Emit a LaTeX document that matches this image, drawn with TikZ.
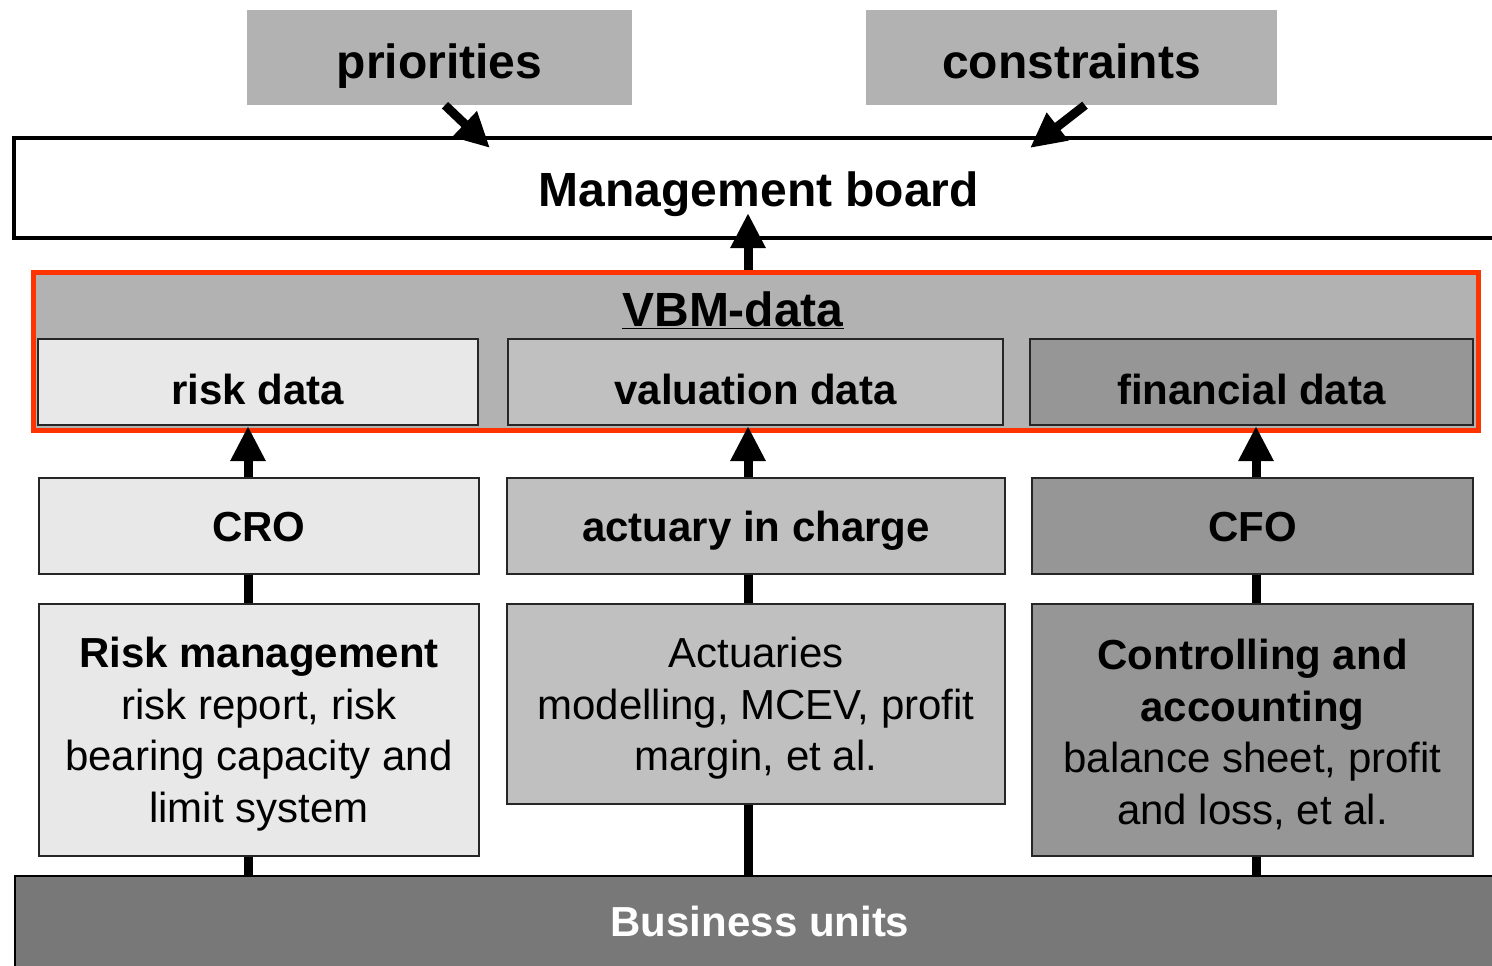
\documentclass[tikz,border=0pt]{standalone}
\usepackage{fontspec}
\setmainfont{Liberation Sans}
\usetikzlibrary{arrows.meta}
\definecolor{headgray}{HTML}{B2B2B2}
\definecolor{lightgray}{HTML}{E8E8E8}
\definecolor{midgray}{HTML}{C0C0C0}
\definecolor{darkgray}{HTML}{969696}
\definecolor{unitgray}{HTML}{787878}
\definecolor{vbmred}{HTML}{FF3300}
\newcommand{\topstrut}{\rule{0pt}{39pt}}
\tikzset{
  headbox/.style  = {fill=headgray, minimum height=95pt, inner sep=0pt,
                     text height=52pt, text depth=11pt,
                     font=\bfseries\fontsize{48}{56}\selectfont},
  databox/.style  = {draw=black!85, line width=2pt, inner sep=0pt,
                     text height=39pt, text depth=9pt,
                     font=\bfseries\fontsize{42}{50}\selectfont},
  datarow/.style  = {databox, minimum height=86pt, text height=53pt},
  textbox/.style  = {draw=black!85, line width=2pt, inner sep=0pt, align=center,
                     font=\fontsize{42}{51.5}\selectfont},
  flow/.style     = {-{Triangle[width=33pt, length=35pt]}, line width=9pt},
  link/.style     = {-, line width=9pt},
}

\begin{document}
\begin{tikzpicture}[x=1pt, y=-1pt]
    \path[use as bounding box] (0,0) rectangle (1492,966);
    \clip (0,0) rectangle (1492,966);

    % inputs and board
    \node[headbox, minimum width=385pt] (prio)   at (439.5,57.5)  {priorities};
    \node[headbox, minimum width=411pt] (constr) at (1071.5,57.5) {constraints};
    \node[draw=black, line width=4.5pt, fill=white, inner sep=0pt,
          minimum width=1490pt, minimum height=100pt,
          text height=47pt, text depth=11pt,
          font=\bfseries\fontsize{48}{56}\selectfont] (board) at (759,188) {Management board};

    % VBM frame with its three data blocks
    \node[draw=vbmred, fill=headgray, line width=5pt,
          minimum width=1445pt, minimum height=158pt] (vbm) at (756,351.5) {};
    \node[font=\bfseries\fontsize{48}{56}\selectfont, inner sep=0pt] (vbmlabel) at (733,310) {\underline{VBM-data}};
    \node[datarow, fill=lightgray, minimum width=440pt] (riskdata) at (258,382)    {risk data};
    \node[datarow, fill=midgray,   minimum width=495pt] (valdata)  at (755.5,382)  {valuation data};
    \node[datarow, fill=darkgray,  minimum width=443pt] (findata)  at (1251.5,382) {financial data};

    % responsible persons
    \node[databox, fill=lightgray, minimum width=440pt, minimum height=96pt] (cro)     at (259,526)    {CRO};
    \node[databox, fill=midgray,   minimum width=498pt, minimum height=96pt] (actuary) at (756,526)    {actuary in charge};
    \node[databox, fill=darkgray,  minimum width=441pt, minimum height=96pt] (cfo)     at (1252.5,526) {CFO};

    % departments
    \node[textbox, fill=lightgray, minimum width=440pt, minimum height=252pt] (riskmgmt) at (259,730)
      {\topstrut\textbf{Risk management}\\risk report, risk\\bearing capacity and\\limit system};
    \node[textbox, fill=midgray, minimum width=498pt, minimum height=200pt] (actuaries) at (756,704)
      {\topstrut Actuaries\\modelling, MCEV, profit\\margin, et al.};
    \node[textbox, fill=darkgray, minimum width=441pt, minimum height=252pt] (controlling) at (1252.5,730)
      {\topstrut\textbf{Controlling and}\\\textbf{accounting}\\balance sheet, profit\\and loss, et al.};

    \node[draw=black, line width=2.5pt, fill=unitgray, text=white, inner sep=0pt,
          minimum width=1490pt, minimum height=100pt,
          text height=30pt, text depth=9pt,
          font=\bfseries\fontsize{42}{50}\selectfont] (units) at (760,926) {Business units};

    % columns of the connectors
    \coordinate (colA) at (248,0);
    \coordinate (colB) at (748,0);
    \coordinate (colC) at (1256,0);
    \coordinate (prioin)   at (490,148);
    \coordinate (constrin) at (1030,148);
    \coordinate (boardin)  at (748,213);

    \draw[flow] ([xshift=5.5pt]prio.south)   -- (prioin);
    \draw[flow] ([xshift=13.5pt]constr.south) -- (constrin);
    \draw[flow] (vbm.north -| colB) -- (boardin);

    \draw[flow] (cro.north -| colA)     -- (riskdata.south -| colA);
    \draw[flow] (actuary.north -| colB) -- (valdata.south -| colB);
    \draw[flow] (cfo.north -| colC)     -- (findata.south -| colC);

    \draw[link] (cro.south -| colA)     -- (riskmgmt.north -| colA);
    \draw[link] (actuary.south -| colB) -- (actuaries.north -| colB);
    \draw[link] (cfo.south -| colC)     -- (controlling.north -| colC);

    \draw[link] (riskmgmt.south -| colA)    -- (units.north -| colA);
    \draw[link] (actuaries.south -| colB)   -- (units.north -| colB);
    \draw[link] (controlling.south -| colC) -- (units.north -| colC);
\end{tikzpicture}
\end{document}
